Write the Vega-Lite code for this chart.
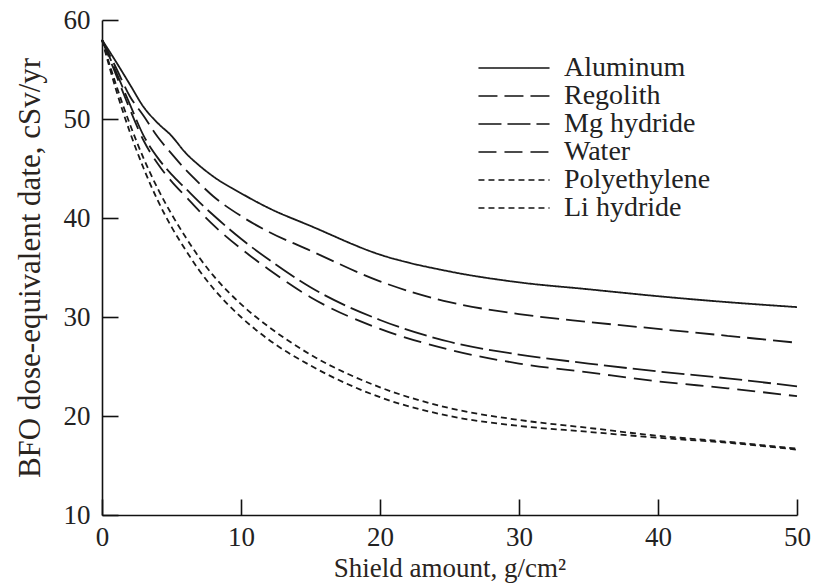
{
  "$schema": "https://vega.github.io/schema/vega-lite/v6.json",
  "width": 695,
  "height": 495,
  "autosize": "none",
  "padding": {"left": 102, "top": 20, "right": 17, "bottom": 72},
  "background": "white",
  "config": {
    "view": {"stroke": null},
    "font": "Liberation Serif",
    "axis": {"grid": false, "domainColor": "#111", "domainWidth": 1.6, "tickColor": "#111", "tickWidth": 1.6, "labelFont": "Liberation Serif", "titleFont": "Liberation Serif", "labelFontSize": 27, "titleFontSize": 28, "labelColor": "#222", "titleColor": "#2a2420", "titleFontWeight": "normal"}
  },
  "data": {"values": [
    {"m":"Aluminum","x":0,"y":58},{"m":"Aluminum","x":1,"y":55.8},{"m":"Aluminum","x":2,"y":53.5},{"m":"Aluminum","x":3,"y":51.2},{"m":"Aluminum","x":4,"y":49.6},{"m":"Aluminum","x":5,"y":48.3},{"m":"Aluminum","x":6,"y":46.6},{"m":"Aluminum","x":7,"y":45.3},{"m":"Aluminum","x":8,"y":44.2},{"m":"Aluminum","x":10,"y":42.5},{"m":"Aluminum","x":12,"y":41},{"m":"Aluminum","x":15,"y":39.2},{"m":"Aluminum","x":20,"y":36.3},{"m":"Aluminum","x":25,"y":34.6},{"m":"Aluminum","x":30,"y":33.5},{"m":"Aluminum","x":35,"y":32.8},{"m":"Aluminum","x":40,"y":32.1},{"m":"Aluminum","x":45,"y":31.5},{"m":"Aluminum","x":50,"y":31.0},
    {"m":"Regolith","x":0,"y":58},{"m":"Regolith","x":1,"y":55.2},{"m":"Regolith","x":2,"y":52.3},{"m":"Regolith","x":3,"y":50.3},{"m":"Regolith","x":4,"y":48.2},{"m":"Regolith","x":5,"y":46.5},{"m":"Regolith","x":6,"y":44.9},{"m":"Regolith","x":7,"y":43.5},{"m":"Regolith","x":8,"y":42.2},{"m":"Regolith","x":10,"y":40.2},{"m":"Regolith","x":12,"y":38.6},{"m":"Regolith","x":15,"y":36.7},{"m":"Regolith","x":20,"y":33.6},{"m":"Regolith","x":25,"y":31.5},{"m":"Regolith","x":30,"y":30.3},{"m":"Regolith","x":35,"y":29.5},{"m":"Regolith","x":40,"y":28.8},{"m":"Regolith","x":45,"y":28.1},{"m":"Regolith","x":50,"y":27.4},
    {"m":"Mg hydride","x":0,"y":58},{"m":"Mg hydride","x":1,"y":54.8},{"m":"Mg hydride","x":2,"y":51.5},{"m":"Mg hydride","x":3,"y":48.3},{"m":"Mg hydride","x":4,"y":46.1},{"m":"Mg hydride","x":5,"y":44.4},{"m":"Mg hydride","x":6,"y":43.0},{"m":"Mg hydride","x":7,"y":41.6},{"m":"Mg hydride","x":8,"y":40.3},{"m":"Mg hydride","x":10,"y":37.9},{"m":"Mg hydride","x":12,"y":35.8},{"m":"Mg hydride","x":15,"y":33.0},{"m":"Mg hydride","x":20,"y":29.7},{"m":"Mg hydride","x":25,"y":27.5},{"m":"Mg hydride","x":30,"y":26.2},{"m":"Mg hydride","x":35,"y":25.3},{"m":"Mg hydride","x":40,"y":24.5},{"m":"Mg hydride","x":45,"y":23.8},{"m":"Mg hydride","x":50,"y":23.0},
    {"m":"Water","x":0,"y":58},{"m":"Water","x":1,"y":54.5},{"m":"Water","x":2,"y":51},{"m":"Water","x":3,"y":47.8},{"m":"Water","x":4,"y":45.5},{"m":"Water","x":5,"y":43.7},{"m":"Water","x":6,"y":42.2},{"m":"Water","x":7,"y":40.7},{"m":"Water","x":8,"y":39.3},{"m":"Water","x":10,"y":36.9},{"m":"Water","x":12,"y":34.8},{"m":"Water","x":15,"y":32.0},{"m":"Water","x":20,"y":28.8},{"m":"Water","x":25,"y":26.7},{"m":"Water","x":30,"y":25.3},{"m":"Water","x":35,"y":24.4},{"m":"Water","x":40,"y":23.5},{"m":"Water","x":45,"y":22.8},{"m":"Water","x":50,"y":22.0},
    {"m":"Polyethylene","x":0,"y":58},{"m":"Polyethylene","x":1,"y":53.5},{"m":"Polyethylene","x":2,"y":49.5},{"m":"Polyethylene","x":3,"y":46},{"m":"Polyethylene","x":4,"y":43},{"m":"Polyethylene","x":5,"y":40.4},{"m":"Polyethylene","x":6,"y":38.1},{"m":"Polyethylene","x":7,"y":36},{"m":"Polyethylene","x":8,"y":34.2},{"m":"Polyethylene","x":10,"y":31.3},{"m":"Polyethylene","x":12,"y":29},{"m":"Polyethylene","x":15,"y":26.2},{"m":"Polyethylene","x":20,"y":22.9},{"m":"Polyethylene","x":25,"y":20.8},{"m":"Polyethylene","x":30,"y":19.6},{"m":"Polyethylene","x":35,"y":18.8},{"m":"Polyethylene","x":40,"y":18.0},{"m":"Polyethylene","x":45,"y":17.4},{"m":"Polyethylene","x":50,"y":16.7},
    {"m":"Li hydride","x":0,"y":58},{"m":"Li hydride","x":1,"y":53},{"m":"Li hydride","x":2,"y":48.7},{"m":"Li hydride","x":3,"y":45},{"m":"Li hydride","x":4,"y":41.8},{"m":"Li hydride","x":5,"y":39.1},{"m":"Li hydride","x":6,"y":36.8},{"m":"Li hydride","x":7,"y":34.7},{"m":"Li hydride","x":8,"y":32.9},{"m":"Li hydride","x":10,"y":30.0},{"m":"Li hydride","x":12,"y":27.7},{"m":"Li hydride","x":15,"y":25.1},{"m":"Li hydride","x":20,"y":21.9},{"m":"Li hydride","x":25,"y":20.0},{"m":"Li hydride","x":30,"y":19.0},{"m":"Li hydride","x":35,"y":18.4},{"m":"Li hydride","x":40,"y":17.8},{"m":"Li hydride","x":45,"y":17.3},{"m":"Li hydride","x":50,"y":16.6}
  ]},
  "mark": {"type": "line", "interpolate": "monotone", "strokeWidth": 1.8, "color": "#1a1a1a"},
  "encoding": {
    "x": {"field": "x", "type": "quantitative", "scale": {"domain": [0, 50], "nice": false}, "axis": {"title": "Shield amount, g/cm²", "titleFontSize": 27, "values": [0,10,20,30,40,50], "tickSize": -16, "labelPadding": 25, "titlePadding": 5, "labelFlush": false}},
    "y": {"field": "y", "type": "quantitative", "scale": {"domain": [10, 60], "nice": false, "zero": false}, "axis": {"title": "BFO dose-equivalent date, cSv/yr", "titleFontSize": 31, "values": [10,20,30,40,50,60], "tickSize": -16, "labelPadding": 28, "titlePadding": 17, "labelFlush": false}},
    "strokeDash": {"field": "m", "type": "nominal",
      "scale": {"domain": ["Aluminum","Regolith","Mg hydride","Water","Polyethylene","Li hydride"], "range": [[1,0],[19,7],[23,6],[18,8],[6,4],[6,4]]},
      "legend": {"title": null, "orient": "none", "legendX": 398, "legendY": 34, "symbolType": "M-5,0H5", "symbolSize": 202, "symbolStrokeWidth": 1.6, "symbolStrokeColor": "#111", "symbolFillColor": "transparent", "labelFont": "Liberation Serif", "labelFontSize": 28, "labelColor": "#222", "labelOffset": 36, "rowPadding": -1, "padding": 0}
    }
  }
}
